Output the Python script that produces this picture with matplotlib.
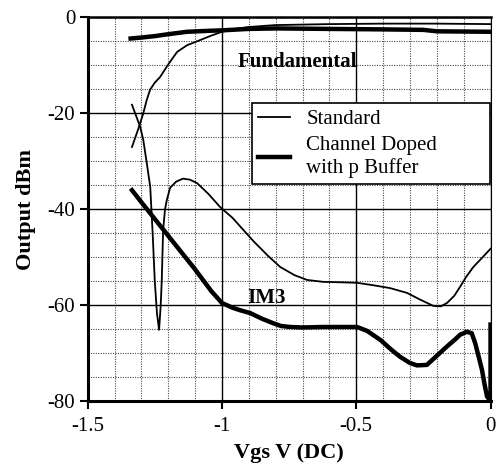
import numpy as np
import matplotlib
matplotlib.use("Agg")
import matplotlib.pyplot as plt
from matplotlib.ticker import MultipleLocator

plt.rcParams['font.family'] = ['Liberation Serif', 'DejaVu Serif']

# fundamental, standard device (thin)
std_fund_x = [-1.335, -1.31, -1.293, -1.28, -1.267, -1.25, -1.23, -1.2, -1.167, -1.13,
              -1.08, -1.04, -1.0, -0.95, -0.9, -0.8, -0.6, -0.4, -0.2, 0.0]
std_fund_y = [-27.0, -23.0, -20.0, -17.2, -15.0, -13.6, -12.4, -9.8, -7.2, -5.8,
              -4.7, -3.8, -3.0, -2.4, -2.0, -1.6, -1.4, -1.3, -1.3, -1.4]

# fundamental, channel doped with p buffer (thick)
cd_fund_x = [-1.34, -1.3, -1.25, -1.2, -1.13, -1.05, -1.0, -0.9, -0.8, -0.6, -0.4,
             -0.25, -0.2, 0.0]
cd_fund_y = [-4.4, -4.2, -3.9, -3.5, -3.0, -2.8, -2.7, -2.4, -2.3, -2.4, -2.5,
             -2.6, -2.9, -3.0]

# IM3, standard device (thin)
std_im3_x = [-1.335, -1.305, -1.293, -1.28, -1.267, -1.258, -1.25, -1.242, -1.234, -1.228,
             -1.224, -1.219, -1.212, -1.205, -1.193, -1.17, -1.145, -1.12, -1.093, -1.05,
             -1.007, -0.96, -0.92, -0.883, -0.83, -0.783, -0.73, -0.683, -0.623, -0.55,
             -0.497, -0.437, -0.374, -0.311, -0.262, -0.213, -0.185, -0.162, -0.135, -0.113,
             -0.09, -0.064, -0.03, 0.0]
std_im3_y = [-18.2, -22.7, -25.5, -30.3, -35.3, -45.0, -55.0, -61.6, -65.1, -60.0,
             -54.7, -44.3, -40.0, -38.0, -35.5, -34.2, -33.6, -33.8, -34.5, -36.8,
             -39.5, -41.8, -44.3, -46.6, -49.6, -52.0, -53.7, -54.7, -55.1, -55.2,
             -55.3, -55.8, -56.4, -57.4, -58.8, -60.1, -60.2, -59.5, -58.0, -56.1,
             -54.0, -52.0, -50.0, -48.2]

# IM3, channel doped with p buffer (thick)
cd_im3_x = [-1.335, -1.3, -1.25, -1.2, -1.15, -1.1, -1.08, -1.04, -1.0, -0.96,
            -0.933, -0.895, -0.85, -0.81, -0.78, -0.746, -0.7, -0.623, -0.55, -0.497,
            -0.46, -0.41, -0.37, -0.337, -0.3, -0.274, -0.237, -0.2, -0.163, -0.13,
            -0.113, -0.088, -0.07, -0.057, -0.045, -0.032, -0.022, -0.013, -0.006, 0.0, 0.0]
cd_im3_y = [-36.0, -38.5, -42.0, -45.5, -49.0, -52.5, -54.0, -57.0, -59.5, -60.5,
            -61.0, -61.6, -62.8, -63.7, -64.3, -64.5, -64.6, -64.5, -64.5, -64.5,
            -65.3, -67.2, -69.2, -70.7, -72.0, -72.5, -72.4, -70.5, -68.6, -67.0,
            -66.1, -65.5, -65.8, -67.9, -70.5, -73.4, -76.5, -79.0, -79.5, -78.0, -64.0]

fig = plt.figure(figsize=(4.98, 4.70), dpi=100)
ax = fig.add_axes([0.176, 0.146, 0.809, 0.817])

thin = 1.3
thick = 3.2
ax.plot(std_fund_x, std_fund_y, color='black', lw=thin, label='Standard', zorder=3)
ax.plot(cd_fund_x, cd_fund_y, color='black', lw=thick, label='Channel Doped\nwith p Buffer', zorder=3)
ax.plot(std_im3_x, std_im3_y, color='black', lw=thin, zorder=3)
ax.plot(cd_im3_x, cd_im3_y, color='black', lw=thick, zorder=3)

ax.set_xlim(-1.5, 0)
ax.set_ylim(-80, 0)
ax.xaxis.set_minor_locator(MultipleLocator(0.1))
ax.yaxis.set_minor_locator(MultipleLocator(5))
ax.set_xticks([-1.5, -1, -0.5, 0])
ax.set_xticklabels(['-1.5', '-1', '-0.5', '0'])
ax.set_yticks([-80, -60, -40, -20, 0])
ax.set_yticklabels(['-80', '-60', '-40', '-20', '0'])

ax.grid(which='minor', color='0.3', lw=0.8, ls=(0, (1, 1.2)))
ax.grid(which='major', color='black', lw=1.0, ls='-')
ax.tick_params(which='major', direction='out', length=6, width=1.5, labelsize=15, pad=3)
ax.tick_params(axis='x', which='major', pad=5)
ax.tick_params(which='minor', length=0)

for side in ['left', 'bottom']:
    ax.spines[side].set_linewidth(2.2)
ax.spines['top'].set_linewidth(1.8)
ax.spines['right'].set_linewidth(0.8)

ax.set_xlabel('Vgs V (DC)', fontsize=16, fontweight='bold', labelpad=5)
ax.set_ylabel('Output dBm', fontsize=16, fontweight='bold', labelpad=8)

ax.text(-0.943, -9.3, 'Fundamental', fontsize=15, fontweight='bold', va='center', ha='left', zorder=4)
ax.text(-0.906, -58.5, 'IM3', fontsize=15, fontweight='bold', va='center', ha='left', zorder=4)

leg = ax.legend(loc='upper left', bbox_to_anchor=(0.408, 0.561, 0.59, 0.216), mode='expand',
                fontsize=15, frameon=True, fancybox=False, edgecolor='black', framealpha=1,
                handlelength=1.5, handletextpad=0.8, borderpad=0.3, labelspacing=0.35,
                borderaxespad=0)
leg.get_frame().set_linewidth(1.2)
leg.set_zorder(5)

fig.savefig('out.png', dpi=100)
